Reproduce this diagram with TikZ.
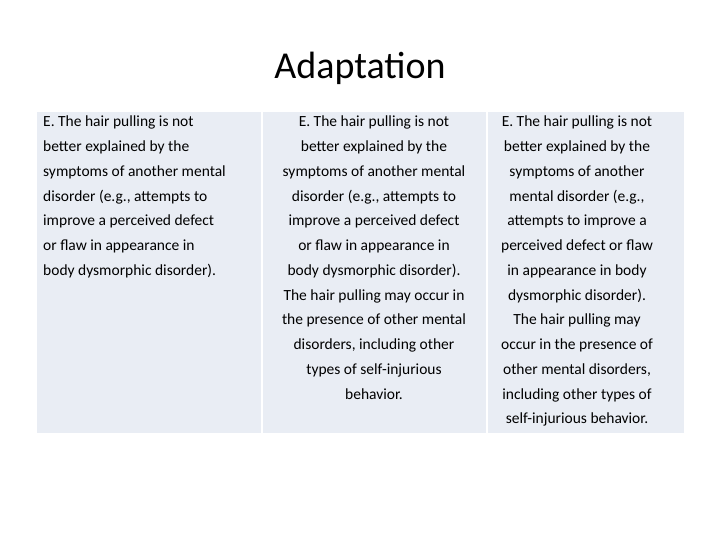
\documentclass[tikz,border=0pt]{standalone}
\usepackage{fontspec}
\setmainfont{Carlito}
\definecolor{cellbg}{HTML}{E9EDF4}
\begin{document}
\begin{tikzpicture}[x=1pt,y=-1pt,
  cell/.style={fill=cellbg,draw=none},
  txt/.style={font=\fontsize{15.5}{24.75}\selectfont,anchor=north,inner sep=0pt}]
\useasboundingbox (0,0) rectangle (720,540);
\node[font=\fontsize{38}{40}\selectfont] (title) at (360,68) {Adaptation};
\fill[cellbg] (37,112) rectangle (261,433);
\fill[cellbg] (263,112) rectangle (486,433);
\fill[cellbg] (488,112) rectangle (684,433);
\node[txt,align=left,anchor=north west] (c1) at (43,116) {E. The hair pulling is not\\better explained by the\\symptoms of another mental\\disorder (e.g., attempts to\\improve a perceived defect\\or flaw in appearance in\\body dysmorphic disorder).};
\node[txt,align=center] (c2) at (374,116) {E. The hair pulling is not\\better explained by the\\symptoms of another mental\\disorder (e.g., attempts to\\improve a perceived defect\\or flaw in appearance in\\body dysmorphic disorder).\\The hair pulling may occur in\\the presence of other mental\\disorders, including other\\types of self-injurious\\behavior.};
\node[txt,align=center] (c3) at (577,116) {E. The hair pulling is not\\better explained by the\\symptoms of another\\mental disorder (e.g.,\\attempts to improve a\\perceived defect or flaw\\in appearance in body\\dysmorphic disorder).\\The hair pulling may\\occur in the presence of\\other mental disorders,\\including other types of\\self-injurious behavior.};
\end{tikzpicture}
\end{document}
